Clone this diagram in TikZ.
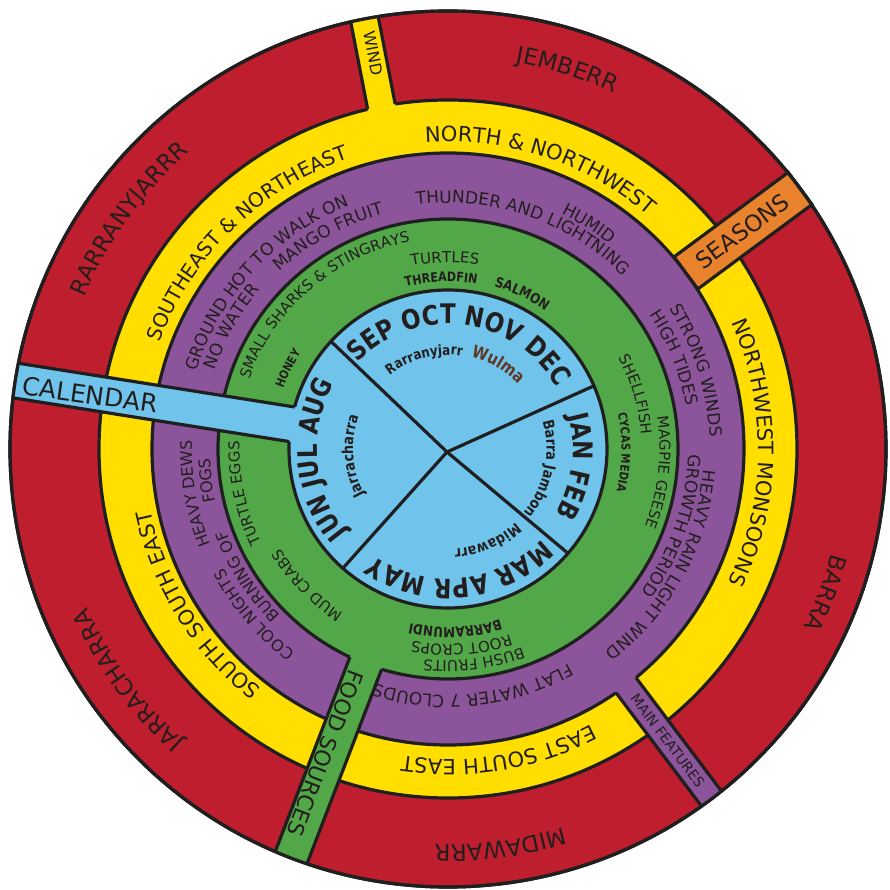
\documentclass[tikz,border=0pt]{standalone}
\usepackage{fontspec}
\setmainfont{DejaVu Sans}
\newfontfamily\calfont{DejaVu Sans}[FakeStretch=0.85]
\usetikzlibrary{decorations.text}

\definecolor{seasred}{RGB}{190,30,46}
\definecolor{windyel}{RGB}{255,222,0}
\definecolor{featpur}{RGB}{140,85,155}
\definecolor{foodgrn}{RGB}{82,168,72}
\definecolor{calblue}{RGB}{112,196,236}
\definecolor{tagorg}{RGB}{232,130,45}
\definecolor{ink}{RGB}{35,30,30}
\definecolor{wulma}{RGB}{95,55,35}

\newcommand{\fsize}[1]{\fontsize{#1}{#1}\selectfont}
% text bent along a clockwise arc: mid angle, baseline radius, font, text
\newcommand{\ringtext}[4]{%
  \path[decorate, decoration={text along path, text align=center,
      text={|\color{ink}#3|#4}}]
    ({#1+85}:#2) arc[start angle={#1+85}, end angle={#1-85}, radius=#2];}

\begin{document}
\begin{tikzpicture}[
    x=1pt, y=1pt,
    ring/.style={draw=black!88, line width=3.2pt},
    lbl/.style={text=ink, inner sep=0pt}
]
\fill[white] (-448,-441) rectangle (441,449);
\useasboundingbox (-448,-441) rectangle (441,449);

% --- Rings ---
\draw[ring, fill=seasred] (0,0) circle[radius=438];
\draw[ring, fill=windyel] (0,0) circle[radius=349];
\draw[ring, fill=featpur] (0,0) circle[radius=296];
\draw[ring, fill=foodgrn] (0,0) circle[radius=230];
\draw[ring, fill=calblue] (0,0) circle[radius=159];

% --- Month sectors ---
\coordinate (hub) at (-1,-3);
\foreach \a in {137.4, 23.4, -41, 228.6}
  \draw[ring] (hub) -- (\a:159);

% --- Bars ---
\begin{scope}[rotate=101]
  \fill[windyel] (340,-14) rectangle (438,14);
  \draw[ring] (348.7,-14) -- (438,-14) (348.7,14) -- (438,14);
\end{scope}
\begin{scope}[rotate=36.5]
  \draw[ring, fill=tagorg] (296,-20) rectangle (438,20);
\end{scope}
\begin{scope}[rotate=171]
  \fill[calblue] (150,-17.5) rectangle (438,17.5);
  \draw[ring] (158,-17.5) -- (438,-17.5) (158,17.5) -- (438,17.5);
\end{scope}
\begin{scope}[rotate=249]
  \fill[foodgrn] (222,-17) rectangle (438,17);
  \draw[ring] (229.4,-17) -- (438,-17) (229.4,17) -- (438,17);
\end{scope}
\begin{scope}[rotate=-53]
  \fill[featpur] (288,-12.5) rectangle (438,12.5);
  \draw[ring] (295.8,-12.5) -- (438,-12.5) (295.8,12.5) -- (438,12.5);
\end{scope}
\draw[ring] (0,0) circle[radius=438];

% --- Bar labels ---
\node[lbl, rotate=-79] (windtag) at (100.7:403) {\fsize{16}WIND};
\node[lbl, rotate=36.5] (seasontag) at (36.5:366) {\fsize{23}SEASONS};
\node[lbl, rotate=-8] (caltag) at (171.4:362) {\fsize{25}CALENDAR};
\node[lbl, rotate=-111] (foodtag) at (248:328) {\fsize{22}FOOD SOURCES};
\node[lbl, rotate=-53] (feattag) at (-53:365) {\fsize{14}MAIN FEATURES};

% --- Calendar ---
\ringtext{83}{125}{\calfont\bfseries\fsize{27}}{SEP OCT NOV DEC}
\ringtext{-7.7}{125}{\calfont\bfseries\fsize{27}}{JAN FEB}
\ringtext{-84.3}{130}{\calfont\bfseries\fsize{27}}{MAR APR MAY}
\ringtext{185}{131}{\calfont\bfseries\fsize{27}}{JUN JUL AUG}
\ringtext{104.8}{94}{\calfont\bfseries\fsize{14}}{Rarranyjarr}
\ringtext{59.3}{95}{\color{wulma}\calfont\bfseries\fsize{17}}{Wulma}
\ringtext{-11.9}{98.5}{\calfont\bfseries\fsize{15}}{Barra Jambon}
\ringtext{-66.8}{100}{\calfont\bfseries\fsize{15}}{Midawarr}
\ringtext{184.1}{95}{\calfont\bfseries\fsize{15}}{Jarracharra}

% --- Food sources ---
\ringtext{90.9}{186.5}{\fsize{15}}{TURTLES}
\ringtext{92.3}{167.3}{\calfont\bfseries\fsize{13}}{THREADFIN}
\ringtext{64.5}{169}{\calfont\bfseries\fsize{14}}{SALMON}
\ringtext{130.5}{210.5}{\fsize{15}}{SMALL SHARKS {\&} STINGRAYS}
\ringtext{153.3}{175.6}{\calfont\bfseries\fsize{12}}{HONEY}
\ringtext{16.2}{193.5}{\fsize{15}}{SHELLFISH}
\ringtext{-6.4}{211.5}{\fsize{15}}{MAGPIE GEESE}
\ringtext{-1}{173.6}{\calfont\bfseries\fsize{12}}{CYCAS MEDIA}
\ringtext{-83}{211.5}{\fsize{15}}{BUSH FRUITS}
\ringtext{-86}{195.5}{\fsize{15}}{ROOT CROPS}
\ringtext{-87.7}{178.5}{\calfont\bfseries\fsize{14}}{BARRAMUNDI}
\ringtext{224}{194.5}{\fsize{15}}{MUD CRABS}
\ringtext{192.3}{208.5}{\fsize{15}}{TURTLE EGGS}

% --- Main features ---
\ringtext{137.5}{263}{\fsize{17}}{GROUND HOT TO WALK ON}
\ringtext{150.5}{246}{\fsize{17}}{NO WATER}
\ringtext{119.4}{244}{\fsize{17}}{MANGO FRUIT}
\ringtext{71}{246}{\fsize{17}}{THUNDER AND LIGHTNING}
\ringtext{57.9}{261}{\fsize{17}}{HUMID}
\ringtext{17.5}{262}{\fsize{17}}{STRONG WINDS}
\ringtext{21.9}{242}{\fsize{17}}{HIGH TIDES}
\ringtext{-28.5}{256}{\fsize{17}}{HEAVY RAIN LIGHT WIND}
\ringtext{-18.9}{240}{\fsize{17}}{GROWTH PERIOD}
\ringtext{-84}{246}{\fsize{17}}{FLAT WATER 7 CLOUDS}
\ringtext{220.5}{254}{\fsize{16}}{COOL NIGHTS}
\ringtext{190}{256}{\fsize{16}}{HEAVY DEWS}
\ringtext{212.5}{236}{\fsize{16}}{BURNING OF}
\ringtext{187.5}{238}{\fsize{16}}{FOGS}

% --- Wind ---
\ringtext{134.3}{307}{\fsize{20}}{SOUTHEAST {\&} NORTHEAST}
\ringtext{71.8}{307.5}{\fsize{21}}{NORTH {\&} NORTHWEST}
\ringtext{-0.7}{310.5}{\fsize{21}}{NORTHWEST MONSOONS}
\ringtext{-80.5}{310.5}{\fsize{21}}{EAST SOUTH EAST}
\ringtext{211.9}{303.5}{\fsize{21}}{SOUTH SOUTH EAST}

% --- Seasons ---
\ringtext{72.5}{392.6}{\fsize{23}}{JEMBERR}
\ringtext{144.2}{393.6}{\fsize{23}}{RARRANYJARRR}
\ringtext{-20.9}{397.6}{\fsize{23}}{BARRA}
\ringtext{-82.5}{395.6}{\fsize{23}}{MIDAWARR}
\ringtext{215.8}{393.6}{\fsize{23}}{JARRACHARRA}
\end{tikzpicture}
\end{document}
